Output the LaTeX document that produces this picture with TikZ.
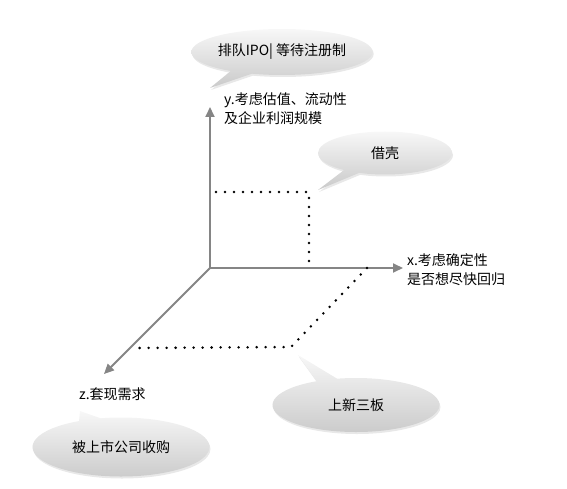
\documentclass[tikz,border=0pt]{standalone}
\usepackage{fontspec}
\setmainfont{Noto Sans CJK SC}
\usetikzlibrary{arrows.meta, positioning, shapes.callouts, shadows}

\begin{document}
\begin{tikzpicture}[
        x=1pt, y=-1pt,
        axis/.style={
            -{Triangle[length=10pt, width=9pt]},
            line width=1.8pt,
            black!48
        },
        dotline/.style={
            line width=2.8pt,
            dash pattern=on 0pt off 9pt,
            line cap=round
        },
        axislabel/.style={
            anchor=west,
            align=left,
            inner sep=0pt,
            font=\fontsize{14}{19}\selectfont
        },
        bubble/.style={
            ellipse callout,
            top color=gray!6,
            bottom color=gray!42,
            draw=none,
            inner sep=0pt,
            font=\fontsize{14}{16}\selectfont,
            drop shadow={opacity=0.18, shadow xshift=1pt, shadow yshift=-2pt}
        }
    ]

        \useasboundingbox (0,0) rectangle (567,489);

        % ---------------------------------------------------------------------
        % Axes
        % ---------------------------------------------------------------------

        \coordinate (origin) at (210,268);
        \coordinate (yend) at (210,107);
        \coordinate (xend) at (403,268);
        \coordinate (zend) at (104,374);

        \draw[axis] (origin) -- (yend);
        \draw[axis] (origin) -- (xend);
        \draw[axis] (origin) -- (zend);

        \node[axislabel] (ylabel) at (224,109) {y.考虑估值、流动性\\及企业利润规模};
        \node[axislabel] (xlabel) at (407,270) {x.考虑确定性\\是否想尽快回归};
        \node[axislabel] (zlabel) at (79,394) {z.套现需求};

        % ---------------------------------------------------------------------
        % Dotted paths
        % ---------------------------------------------------------------------

        \coordinate (shellA) at (216,192);
        \coordinate (shellB) at (309,192);
        \coordinate (shellC) at (309,264);

        \coordinate (neeqA) at (367,268);
        \coordinate (neeqB) at (291,347);
        \coordinate (neeqC) at (137,348);

        \draw[dotline] (shellA) -- (shellB) -- (shellC);
        \draw[dotline] (neeqA) -- (neeqB) -- (neeqC);

        % ---------------------------------------------------------------------
        % Callouts
        % ---------------------------------------------------------------------

        \coordinate (ipotip) at (210,88);
        \coordinate (shelltip) at (318,190);
        \coordinate (neeqtip) at (298,355);
        \coordinate (acqtip) at (80,411);

        \node[
            bubble,
            minimum width=150pt,
            minimum height=46pt,
            callout absolute pointer={(ipotip)}
        ] (ipo) at (282,52) {排队IPO| 等待注册制};

        \node[
            bubble,
            minimum width=134pt,
            minimum height=43pt,
            callout absolute pointer={(shelltip)}
        ] (shell) at (385,153) {借壳};

        \node[
            bubble,
            minimum width=167pt,
            minimum height=54pt,
            callout absolute pointer={(neeqtip)}
        ] (neeq) at (356,405) {上新三板};

        \node[
            bubble,
            minimum width=177pt,
            minimum height=59pt,
            callout absolute pointer={(acqtip)}
        ] (acq) at (121,447) {被上市公司收购};

    \end{tikzpicture}
\end{document}
